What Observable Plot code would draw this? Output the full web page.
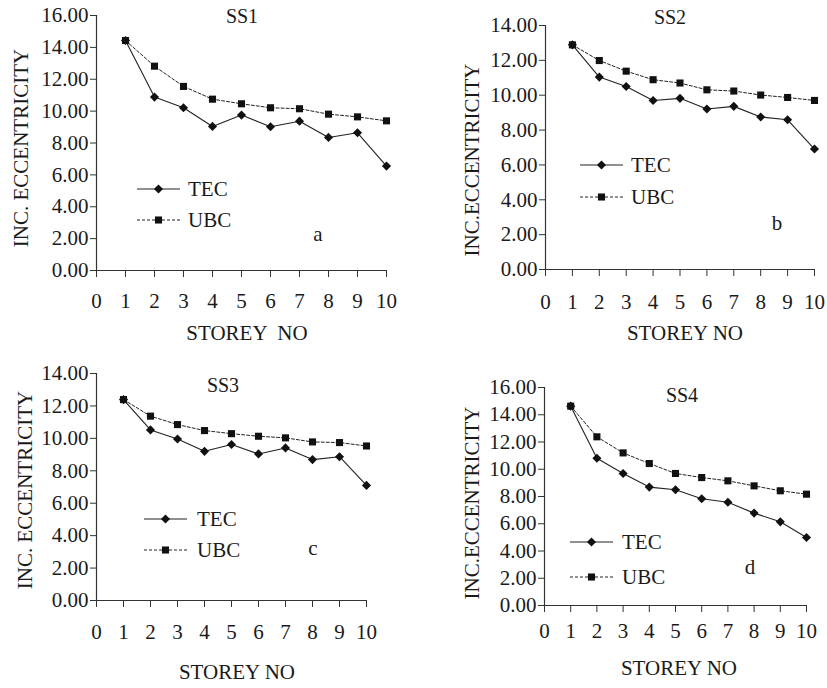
<!DOCTYPE html>
<html>
<head>
<meta charset="utf-8">
<script src="https://cdn.jsdelivr.net/npm/d3@7"></script>
<script src="https://cdn.jsdelivr.net/npm/@observablehq/plot@0.6"></script>
<style>
  html, body { margin: 0; padding: 0; background: #fff; }
  #wrap { position: relative; width: 827px; height: 688px; overflow: hidden; }
  #wrap > svg { position: absolute; left: 0; top: 0; }
</style>
</head>
<body>
<div id="wrap"></div>
<script>
// ---- data ----
const storeys = [1, 2, 3, 4, 5, 6, 7, 8, 9, 10];
const xTicks = [0, 1, 2, 3, 4, 5, 6, 7, 8, 9, 10];
const panelTitles = ["SS1", "SS2", "SS3", "SS4"];
const panelLetters = ["a", "b", "c", "d"];
const seriesNames = ["TEC", "UBC"];
const yLabels = ["INC. ECCENTRICITY", "INC.ECCENTRICITY", "INC. ECCENTRICITY", "INC.ECCENTRICITY"];
const xLabels = ["STOREY  NO", "STOREY NO", "STOREY NO", "STOREY NO"];
const yMaxes = [16, 14, 14, 16];

const ss1TEC = [14.43, 10.88, 10.21, 9.04, 9.75, 9.02, 9.37, 8.35, 8.64, 6.55];
const ss1UBC = [14.43, 12.82, 11.55, 10.75, 10.46, 10.21, 10.15, 9.81, 9.64, 9.39];
const ss2TEC = [12.89, 11.04, 10.50, 9.70, 9.82, 9.21, 9.36, 8.75, 8.59, 6.91];
const ss2UBC = [12.89, 11.99, 11.38, 10.89, 10.70, 10.31, 10.24, 10.01, 9.87, 9.70];
const ss3TEC = [12.39, 10.52, 9.96, 9.20, 9.62, 9.04, 9.41, 8.69, 8.87, 7.10];
const ss3UBC = [12.39, 11.37, 10.85, 10.48, 10.29, 10.13, 10.03, 9.78, 9.74, 9.53];
const ss4TEC = [14.63, 10.81, 9.69, 8.69, 8.49, 7.83, 7.58, 6.78, 6.14, 4.99];
const ss4UBC = [14.63, 12.38, 11.20, 10.42, 9.69, 9.39, 9.15, 8.78, 8.42, 8.17];

const tecSeries = [ss1TEC, ss2TEC, ss3TEC, ss4TEC];
const ubcSeries = [ss1UBC, ss2UBC, ss3UBC, ss4UBC];

// ---- layout (page pixels) ----
const W = 827, H = 688;
const FONT = "Liberation Serif";
const INK = "#1a1a1a";
const TICK_FS = 21, LABEL_FS = 21, LEG_FS = 21, TITLE_FS = 20;
const frames = [
  {left: 96,  right: 386, top: 15,  bottom: 270, pad: 16},
  {left: 545, right: 814, top: 25,  bottom: 269, pad: 18},
  {left: 96,  right: 366, top: 373, bottom: 600, pad: 17},
  {left: 544, right: 806, top: 387, bottom: 605, pad: 11}
];
const deco = [
  {title: [242, 16], letter: [318, 234], xl: [247, 333], yl: [21, 148],
   leg: {x1: 137, x2: 180, tx: 188, y1: 189, y2: 220}},
  {title: [670, 17], letter: [777, 223], xl: [685, 333], yl: [472, 160],
   leg: {x1: 580, x2: 623, tx: 631, y1: 165, y2: 197}},
  {title: [223, 385], letter: [313, 548], xl: [237, 672], yl: [25, 490],
   leg: {x1: 144, x2: 187, tx: 197, y1: 519, y2: 550}},
  {title: [682, 395], letter: [750, 567], xl: [679, 668], yl: [472, 503],
   leg: {x1: 570, x2: 613, tx: 622, y1: 542, y2: 577}}
];

const wrap = document.getElementById("wrap");

frames.forEach((f, i) => {
  const rows = [];
  storeys.forEach((s, k) => {
    rows.push({storey: s, value: tecSeries[i][k], series: seriesNames[0]});
  });
  storeys.forEach((s, k) => {
    rows.push({storey: s, value: ubcSeries[i][k], series: seriesNames[1]});
  });
  const tec = rows.filter(d => d.series === "TEC");
  const ubc = rows.filter(d => d.series === "UBC");
  const yMax = yMaxes[i];
  const chart = Plot.plot({
    width: W,
    height: H,
    marginLeft: f.left,
    marginRight: W - f.right,
    marginTop: f.top,
    marginBottom: H - f.bottom,
    style: {background: "transparent", fontFamily: FONT, fontSize: TICK_FS + "px", color: INK, overflow: "visible"},
    x: {domain: [0, 10]},
    y: {domain: [0, yMax]},
    marks: [
      Plot.axisY({ticks: d3.range(0, yMax + 1, 2), tickFormat: d => d.toFixed(2), tickSize: 6, tickPadding: 2,
                  fontSize: TICK_FS, fontFamily: FONT, label: null, stroke: "#333", fill: INK}),
      Plot.axisX({ticks: xTicks, tickFormat: d => String(d), tickSize: 7, tickPadding: f.pad,
                  fontSize: TICK_FS, fontFamily: FONT, label: null, stroke: "#333", fill: INK}),
      Plot.ruleX([0], {stroke: "#333", strokeWidth: 1.2}),
      Plot.ruleY([0], {stroke: "#333", strokeWidth: 1.2}),
      Plot.line(ubc, {x: "storey", y: "value", stroke: "#222", strokeWidth: 1, strokeDasharray: "3,2"}),
      Plot.line(tec, {x: "storey", y: "value", stroke: "#222", strokeWidth: 1.1}),
      Plot.dot(ubc, {x: "storey", y: "value", symbol: "square", r: 4, fill: "#111", stroke: "none"}),
      Plot.dot(tec, {x: "storey", y: "value", symbol: "diamond2", r: 4.1, fill: "#111", stroke: "none"})
    ]
  });
  // put font settings directly on each text element as attributes
  d3.select(chart).selectAll("text")
    .attr("font-family", FONT).attr("font-size", TICK_FS).attr("fill", INK);
  wrap.appendChild(chart);
});

// ---- overlay: titles, legends, axis labels, panel letters ----
const ov = d3.select(wrap).append("svg")
  .attr("width", W).attr("height", H)
  .attr("font-family", FONT).attr("fill", INK);

function label(x, y, txt, size, anchor, rotate) {
  const t = ov.append("text")
    .attr("text-anchor", anchor)
    .attr("dy", "0.33em")
    .attr("font-family", FONT)
    .attr("font-size", size)
    .attr("fill", INK)
    .attr("xml:space", "preserve")
    .style("white-space", "pre")
    .text(txt);
  if (rotate) t.attr("transform", `translate(${x},${y}) rotate(-90)`);
  else t.attr("x", x).attr("y", y);
  return t;
}

deco.forEach((d, i) => {
  label(d.title[0], d.title[1], panelTitles[i], TITLE_FS, "middle");
  label(d.letter[0], d.letter[1], panelLetters[i], LABEL_FS, "middle");
  label(d.xl[0], d.xl[1], xLabels[i], LABEL_FS, "middle");
  label(d.yl[0], d.yl[1], yLabels[i], LABEL_FS, "middle", true);
  // legend
  const L = d.leg;
  const mid = (L.x1 + L.x2) / 2;
  ov.append("line").attr("x1", L.x1).attr("x2", L.x2).attr("y1", L.y1).attr("y2", L.y1)
    .attr("stroke", "#222").attr("stroke-width", 1.1);
  ov.append("path").attr("d", d3.symbol(d3.symbolDiamond2, Math.PI * 4.1 * 4.1)())
    .attr("transform", `translate(${mid},${L.y1})`).attr("fill", "#111");
  label(L.tx, L.y1, seriesNames[0], LEG_FS, "start");
  ov.append("line").attr("x1", L.x1).attr("x2", L.x2).attr("y1", L.y2).attr("y2", L.y2)
    .attr("stroke", "#222").attr("stroke-width", 1).attr("stroke-dasharray", "3,2");
  ov.append("path").attr("d", d3.symbol(d3.symbolSquare, Math.PI * 4 * 4)())
    .attr("transform", `translate(${mid},${L.y2})`).attr("fill", "#111");
  label(L.tx, L.y2, seriesNames[1], LEG_FS, "start");
});
</script>
</body>
</html>
